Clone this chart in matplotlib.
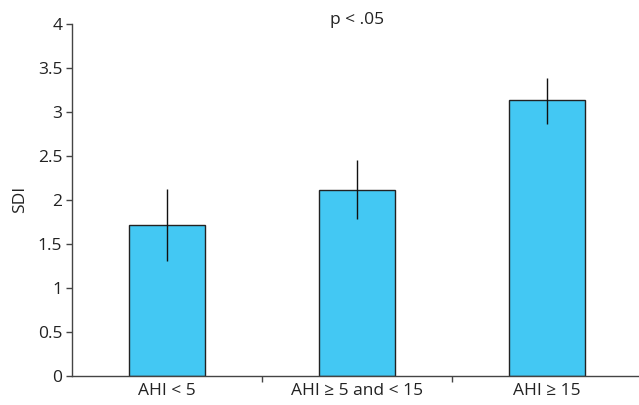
import matplotlib
matplotlib.use("Agg")
import matplotlib.pyplot as plt
import numpy as np

plt.rcParams['font.family'] = ['Open Sans', 'DejaVu Sans']

# values
groups = ['AHI < 5', 'AHI ≥ 5 and < 15', 'AHI ≥ 15']
sdi_mean = [1.71, 2.11, 3.13]
err_low = [0.41, 0.33, 0.27]
err_high = [0.41, 0.34, 0.26]
yticks = [0, 0.5, 1, 1.5, 2, 2.5, 3, 3.5, 4]
ytick_labels = ['0', '0.5', '1', '1.5', '2', '2.5', '3', '3.5', '4']

fs = 12.5

fig = plt.figure(figsize=(6.39, 4.05), dpi=100)
ax = fig.add_axes([72 / 639, 29.3 / 405, 567 / 639, 351.7 / 405])

x = np.arange(len(groups))
ax.bar(x, sdi_mean, width=0.4, color='#43C8F3', edgecolor='#222222', linewidth=1.0, zorder=2)
ax.errorbar(x, sdi_mean, yerr=[err_low, err_high], fmt='none', ecolor='#111111',
            elinewidth=1.0, capsize=0, zorder=3)

ax.set_xlim(-0.5, 2.485)
ax.set_ylim(0, 4)
ax.set_yticks(yticks)
ax.set_yticklabels(ytick_labels)
ax.set_xticks(x)
ax.set_xticklabels(groups)
ax.set_xticks([0.5, 1.5], minor=True)
ax.tick_params(axis='x', which='major', length=0, pad=5, labelsize=fs, colors='#222222')
ax.tick_params(axis='x', which='minor', length=4, width=1, color='#444444', direction='out')
ax.tick_params(axis='y', length=4, width=1, color='#444444', labelsize=fs, colors='#222222', pad=3)

for side in ['top', 'right']:
    ax.spines[side].set_visible(False)
for side in ['left', 'bottom']:
    ax.spines[side].set_color('#444444')
    ax.spines[side].set_linewidth(1.0)

ax.set_ylabel('SDI', fontsize=fs, color='#222222', labelpad=7)
ax.text(1, 4.05, 'p < .05', ha='center', va='center', fontsize=fs, color='#222222')

fig.savefig('out.png', dpi=100)
